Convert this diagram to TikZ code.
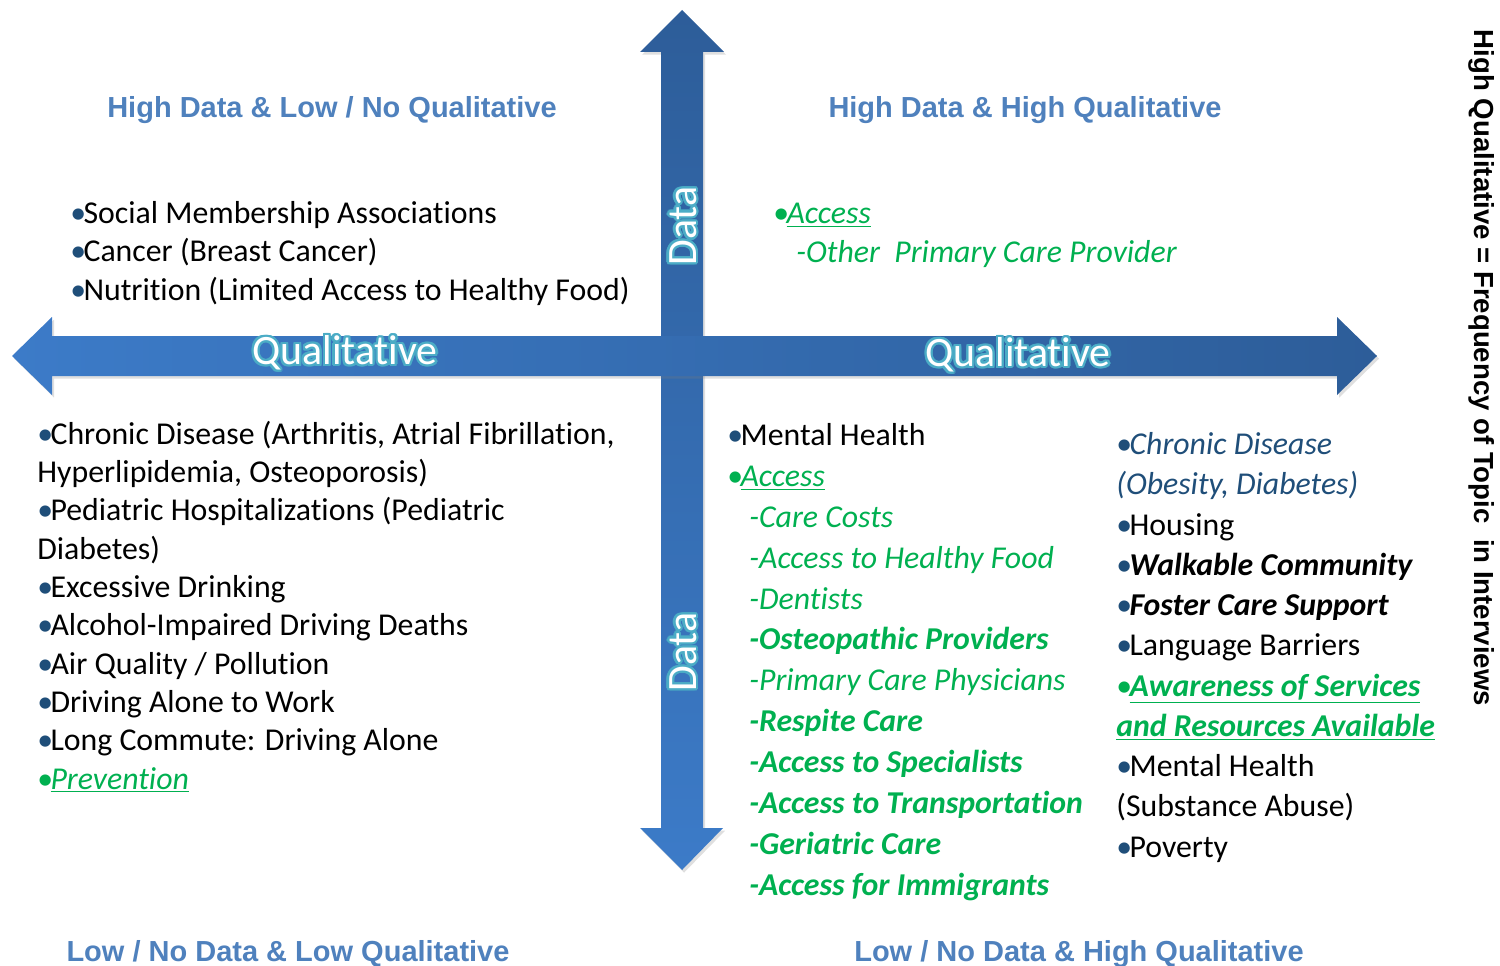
\documentclass[tikz,border=0pt]{standalone}
\usepackage{fontspec}
\setmainfont{Carlito}[Ligatures=NoCommon]
\newfontfamily\arialfont{Liberation Sans}
\usepackage{contour}
\contourlength{1.3pt}
\usetikzlibrary{shadows}

\definecolor{arrowlight}{HTML}{3C7BC8}
\definecolor{arrowdark}{HTML}{2D5D99}
\definecolor{headblue}{HTML}{4F81BD}
\definecolor{dotblue}{HTML}{1F4E79}
\definecolor{itemgreen}{HTML}{00B050}
\definecolor{glowteal}{HTML}{4BACC6}

\newcommand{\bul}{{\color{dotblue}\textbullet}\kern-1.5pt}
\newcommand{\gbul}{{\color{itemgreen}\textbullet}\kern-1.5pt}
\newcommand{\glow}[1]{\contour{glowteal}{\textcolor{white}{#1}}}

\tikzset{
  quadhead/.style={anchor=base, inner sep=0, text=headblue,
    font=\arialfont\bfseries\fontsize{16.5}{20}\selectfont},
  itemlist/.style={anchor=base west, align=left, inner sep=0,
    font=\fontsize{18.1}{21.8}\selectfont},
  axislabel/.style={inner sep=0, font=\fontsize{23.8}{27}\selectfont},
  axisarrow/.style={drop shadow={opacity=0.25,shadow xshift=1.2pt,shadow yshift=-1.5pt}}
}

\begin{document}
\begin{tikzpicture}[x=0.02cm,y=-0.02cm]
\useasboundingbox (0,0) rectangle (1500,966);

% axes
\path[axisarrow, top color=arrowdark, bottom color=arrowlight]
  (682,10) -- (724,52) -- (703,52) -- (703,828) -- (723,828) -- (682,870)
  -- (640,828) -- (661,828) -- (661,52) -- (640,52) -- cycle;
\path[axisarrow, left color=arrowlight, right color=arrowdark]
  (12,356) -- (52,317) -- (52,336) -- (1337,336) -- (1337,317) -- (1377,356)
  -- (1337,395) -- (1337,376) -- (52,376) -- (52,395) -- cycle;

\node[axislabel] (qualleft) at (345,354) {\glow{Qualitative}};
\node[axislabel] (qualright) at (1018,356) {\glow{Qualitative}};
\node[axislabel, rotate=90] (dataup) at (684,226) {\glow{Data}};
\node[axislabel, rotate=90] (datadown) at (684,652) {\glow{Data}};

% quadrant titles
\node[quadhead] (hdlowq) at (332,118) {High Data \& Low / No Qualitative};
\node[quadhead] (hdhighq) at (1025,118) {High Data \& High Qualitative};
\node[quadhead] (ldlowq) at (288,961) {Low / No Data \& Low Qualitative};
\node[quadhead] (ldhighq) at (1079,961) {Low / No Data \& High Qualitative};

\node[inner sep=0, rotate=-90, font=\arialfont\bfseries\fontsize{15.7}{18}\selectfont]
  (freqnote) at (1482,368) {High Qualitative = Frequency of Topic\ \ in Interviews};

% lists, placed by the baseline of their last line
% top left
\node[itemlist] (tllist) at (70,300) {\bul Social Membership Associations\\
  \bul Cancer (Breast Cancer)\\
  \bul Nutrition (Limited Access to Healthy Food)};

% top right
\node[itemlist] (trlist) at (773,262) {{\gbul\color{itemgreen}\itshape\underline{Access}}\\
  \hspace*{0.46cm}{\color{itemgreen}\itshape -Other\ \ Primary Care Provider}};

% bottom left
\node[itemlist] (bllist) at (37,789) {\bul Chronic Disease (Arthritis, Atrial Fibrillation,\\
  Hyperlipidemia, Osteoporosis)\\
  \bul Pediatric Hospitalizations (Pediatric\\
  Diabetes)\\
  \bul Excessive Drinking\\
  \bul Alcohol-Impaired Driving Deaths\\
  \bul Air Quality / Pollution\\
  \bul Driving Alone to Work\\
  \bul Long Commute: Driving Alone\\
  {\gbul\color{itemgreen}\itshape\underline{Prevention}}};

% bottom middle
\node[itemlist, font=\fontsize{18.1}{23.25}\selectfont] (bmlist) at (727,895) {\bul Mental Health\\
  {\gbul\color{itemgreen}\itshape\underline{Access}}\\
  \hspace*{0.44cm}{\color{itemgreen}\itshape -Care Costs}\\
  \hspace*{0.44cm}{\color{itemgreen}\itshape -Access to Healthy Food}\\
  \hspace*{0.44cm}{\color{itemgreen}\itshape -Dentists}\\
  \hspace*{0.44cm}{\color{itemgreen}\bfseries\itshape -Osteopathic Providers}\\
  \hspace*{0.44cm}{\color{itemgreen}\itshape -Primary Care Physicians}\\
  \hspace*{0.44cm}{\color{itemgreen}\bfseries\itshape -Respite Care}\\
  \hspace*{0.44cm}{\color{itemgreen}\bfseries\itshape -Access to Specialists}\\
  \hspace*{0.44cm}{\color{itemgreen}\bfseries\itshape -Access to Transportation}\\
  \hspace*{0.44cm}{\color{itemgreen}\bfseries\itshape -Geriatric Care}\\
  \hspace*{0.44cm}{\color{itemgreen}\bfseries\itshape -Access for Immigrants}};

% bottom right
\node[itemlist, font=\fontsize{18.1}{22.9}\selectfont] (brlist) at (1116,857) {{\bul\color{dotblue}\itshape Chronic Disease}\\
  {\color{dotblue}\itshape (Obesity, Diabetes)}\\
  \bul Housing\\
  {\bul\bfseries\itshape Walkable Community}\\
  {\bul\bfseries\itshape Foster Care Support}\\
  \bul Language Barriers\\
  {\gbul\color{itemgreen}\bfseries\itshape\underline{Awareness of Services}}\\
  {\color{itemgreen}\bfseries\itshape\underline{and Resources Available}}\\
  \bul Mental Health\\
  (Substance Abuse)\\
  \bul Poverty};
\end{tikzpicture}
\end{document}
